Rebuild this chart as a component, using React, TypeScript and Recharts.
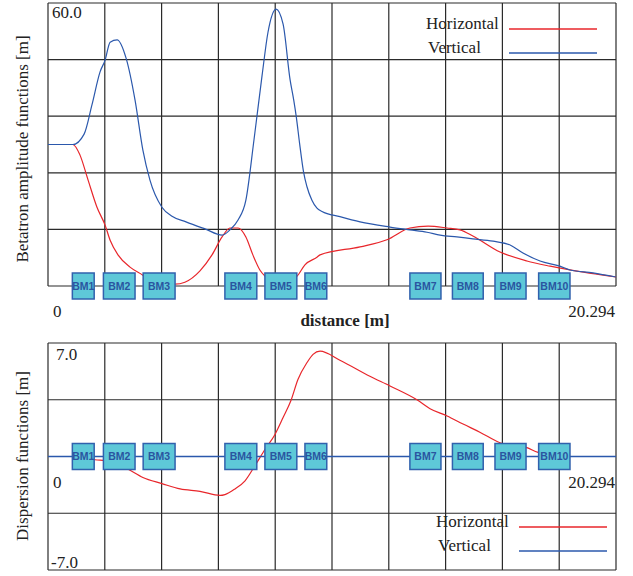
import React from 'react';
import {
  LineChart,
  Line,
  XAxis,
  YAxis,
  CartesianGrid,
  ReferenceArea,
} from 'recharts';

const SERIF = "'Liberation Serif', 'Times New Roman', serif";
const SANS = "'Liberation Sans', Arial, sans-serif";

const RED = '#e8262b';
const BLUE = '#2b58ac';
const GRID = '#2a2a2a';
const BOX_FILL = '#5ec8d8';
const BOX_STROKE = '#3161ad';
const BOX_TEXT = '#2a55a0';

const X_MAX = 20.294;
const X_TICKS = [0, 2.029, 4.059, 6.088, 8.118, 10.147, 12.176, 14.206, 16.235, 18.265, 20.294];
const BETA_TICKS = [0, 12, 24, 36, 48, 60];
const DISP_TICKS = [-7, -3.5, 0, 3.5, 7];

// bending magnets along the line, start / end in metres
const MAGNET_NAMES = ['BM1', 'BM2', 'BM3', 'BM4', 'BM5', 'BM6', 'BM7', 'BM8', 'BM9', 'BM10'];
const MAGNET_START = [0.87, 1.98, 3.40, 6.32, 7.75, 9.18, 12.93, 14.45, 15.97, 17.53];
const MAGNET_END   = [1.65, 3.11, 4.54, 7.46, 8.89, 9.96, 14.04, 15.55, 17.08, 18.65];

// betatron functions
const H_BETA_S = [0, 0.89, 1.14, 1.43, 1.75, 2.04, 2.22, 2.50, 2.93, 3.39, 3.64, 4.00, 4.54, 4.89, 5.43, 5.86, 6.22, 6.50, 6.79, 7.07, 7.32, 7.57, 7.75, 8.22, 8.65, 8.90, 9.18, 9.61, 9.72, 11.15, 12.11, 12.93, 13.58, 14.26, 14.72, 15.18, 16.15, 17.11, 17.94, 18.65, 20.294];
const H_BETA   = [30, 30, 27.8, 22.5, 16.7, 12.9, 9.7, 6.6, 4.0, 2.3, 1.3, 0.4, 0.4, 0.8, 3.2, 6.6, 10.4, 12.3, 12.3, 10.4, 6.6, 3.4, 2.1, 0.6, 1.2, 2.1, 4.5, 6.1, 6.6, 8.3, 9.8, 12.3, 12.7, 12.3, 11.9, 10.6, 7.2, 5.3, 4.2, 3.4, 1.9];

const V_BETA_S = [0, 0.89, 1.29, 1.57, 1.86, 2.04, 2.22, 2.47, 2.79, 3.11, 3.39, 3.64, 4.07, 4.43, 4.93, 5.61, 6.22, 6.50, 6.79, 7.07, 7.36, 7.65, 7.86, 8.15, 8.40, 8.65, 8.78, 8.87, 8.99, 9.13, 9.25, 9.43, 9.61, 9.79, 10.43, 11.15, 12.22, 12.93, 13.54, 14.01, 14.61, 15.18, 15.90, 16.51, 16.97, 17.58, 18.29, 18.65, 19.47, 20.294];
const V_BETA   = [30, 30, 32.2, 38.4, 45.4, 47.9, 51.7, 52.2, 48.3, 39.4, 28.8, 22.5, 16.7, 14.8, 13.6, 12.1, 10.8, 11.9, 14.0, 18.2, 31, 44.7, 53.8, 58.7, 55.5, 43.7, 39.4, 35.9, 30.2, 24.2, 21.1, 18.2, 16.5, 15.8, 14.7, 13.6, 12.5, 11.9, 11.4, 10.8, 10.4, 10.0, 9.5, 8.7, 7.0, 5.3, 4.2, 3.4, 2.8, 1.9];

// dispersion functions
const H_DISP_S = [0, 1.43, 1.68, 2.04, 2.57, 2.93, 3.39, 4.07, 4.72, 5.43, 6.15, 6.32, 6.68, 7.04, 7.40, 7.75, 8.11, 8.40, 8.68, 8.93, 9.25, 9.47, 9.72, 10.43, 11.50, 12.22, 13.18, 13.65, 14.26, 14.83, 15.43, 16.15, 17.11, 17.51, 18.65, 20.294];
const H_DISP   = [0, 0, -0.2, -0.25, -0.5, -0.85, -1.3, -1.67, -2.0, -2.15, -2.4, -2.35, -2.0, -1.5, -0.55, 0.43, 1.36, 2.4, 3.45, 4.75, 5.78, 6.3, 6.5, 5.94, 4.95, 4.35, 3.5, 2.95, 2.5, 2.0, 1.5, 0.85, 0.55, 0.25, 0, 0];

const V_DISP_S = [0, 20.294];
const V_DISP   = [0, 0];

const zip = (s: number[], v: number[]) => s.map((d, i) => ({ d, v: v[i] }));

const hBeta = zip(H_BETA_S, H_BETA);
const vBeta = zip(V_BETA_S, V_BETA);
const hDisp = zip(H_DISP_S, H_DISP);
const vDisp = zip(V_DISP_S, V_DISP);

const TXT: React.CSSProperties = { fontFamily: SERIF, fontSize: 17, fill: '#222' };

function magnets(half: number) {
  return MAGNET_NAMES.map((name, i) => (
    <ReferenceArea
      key={name}
      x1={MAGNET_START[i]}
      x2={MAGNET_END[i]}
      y1={-half}
      y2={half}
      ifOverflow="visible"
      fill={BOX_FILL}
      fillOpacity={1}
      stroke={BOX_STROKE}
      strokeWidth={1.5}
      zIndex={1500}
      label={{
        value: name,
        position: 'center',
        fill: BOX_TEXT,
        fontSize: 10.5,
        fontWeight: 700,
        fontFamily: SANS,
      }}
    />
  ));
}

function LegendBlock({ tx, x, y }: { tx: number; x: number; y: number }) {
  // tx = left of the texts, x = left end of the swatch lines, y = baseline of first row
  return (
    <g>
      <text x={tx} y={y} style={TXT}>Horizontal</text>
      <line x1={x} x2={x + 88} y1={y} y2={y} stroke={RED} strokeWidth={1.4} />
      <text x={tx + 2} y={y + 24} style={TXT}>Vertical</text>
      <line x1={x} x2={x + 88} y1={y + 24} y2={y + 24} stroke={BLUE} strokeWidth={1.4} />
    </g>
  );
}

export default function App() {
  return (
    <div style={{ position: 'absolute', left: 0, top: 0, width: 633, height: 576, background: '#fff' }}>
      {/* Betatron amplitude panel */}
      <div style={{ position: 'absolute', left: 0, top: 0 }}>
        <LineChart width={633} height={300} margin={{ top: 3, right: 17, bottom: 14, left: 48 }}>
          <CartesianGrid stroke={GRID} strokeWidth={1.2} />
          <XAxis dataKey="d" type="number" domain={[0, X_MAX]} ticks={X_TICKS} hide allowDataOverflow />
          <YAxis type="number" domain={[0, 60]} ticks={BETA_TICKS} hide allowDataOverflow />
          <Line data={hBeta} dataKey="v" type="monotone" stroke={RED} strokeWidth={1.2} dot={false} isAnimationActive={false} />
          <Line data={vBeta} dataKey="v" type="monotone" stroke={BLUE} strokeWidth={1.2} dot={false} isAnimationActive={false} />
          {magnets(2.75)}
        </LineChart>
      </div>

      {/* Dispersion panel */}
      <div style={{ position: 'absolute', left: 0, top: 330 }}>
        <LineChart width={633} height={246} margin={{ top: 13, right: 17, bottom: 6, left: 48 }}>
          <CartesianGrid stroke={GRID} strokeWidth={1.2} />
          <XAxis dataKey="d" type="number" domain={[0, X_MAX]} ticks={X_TICKS} hide allowDataOverflow />
          <YAxis type="number" domain={[-7, 7]} ticks={DISP_TICKS} hide allowDataOverflow />
          <Line data={hDisp} dataKey="v" type="monotone" stroke={RED} strokeWidth={1.2} dot={false} isAnimationActive={false} />
          <Line data={vDisp} dataKey="v" type="linear" stroke={BLUE} strokeWidth={1.4} dot={false} isAnimationActive={false} />
          {magnets(0.8)}
        </LineChart>
      </div>

      {/* text annotations */}
      <svg width={633} height={576} style={{ position: 'absolute', left: 0, top: 0, pointerEvents: 'none' }}>
        <text x={52} y={18} style={TXT}>60.0</text>
        <text x={53} y={317} style={TXT}>0</text>
        <text x={615} y={317} textAnchor="end" style={TXT}>20.294</text>
        <text x={345} y={326} textAnchor="middle" style={{ ...TXT, fontWeight: 700 }}>distance [m]</text>
        <text transform="translate(28,149) rotate(-90)" textAnchor="middle" style={TXT}>Betatron amplitude functions [m]</text>

        <text x={56} y={360} style={TXT}>7.0</text>
        <text x={53} y={488} style={TXT}>0</text>
        <text x={615} y={488} textAnchor="end" style={TXT}>20.294</text>
        <text x={51} y={568} style={TXT}>-7.0</text>
        <text transform="translate(28,456) rotate(-90)" textAnchor="middle" style={TXT}>Dispersion functions [m]</text>

        <LegendBlock tx={426} x={509} y={29} />
        <LegendBlock tx={436} x={519} y={527} />
      </svg>
    </div>
  );
}
